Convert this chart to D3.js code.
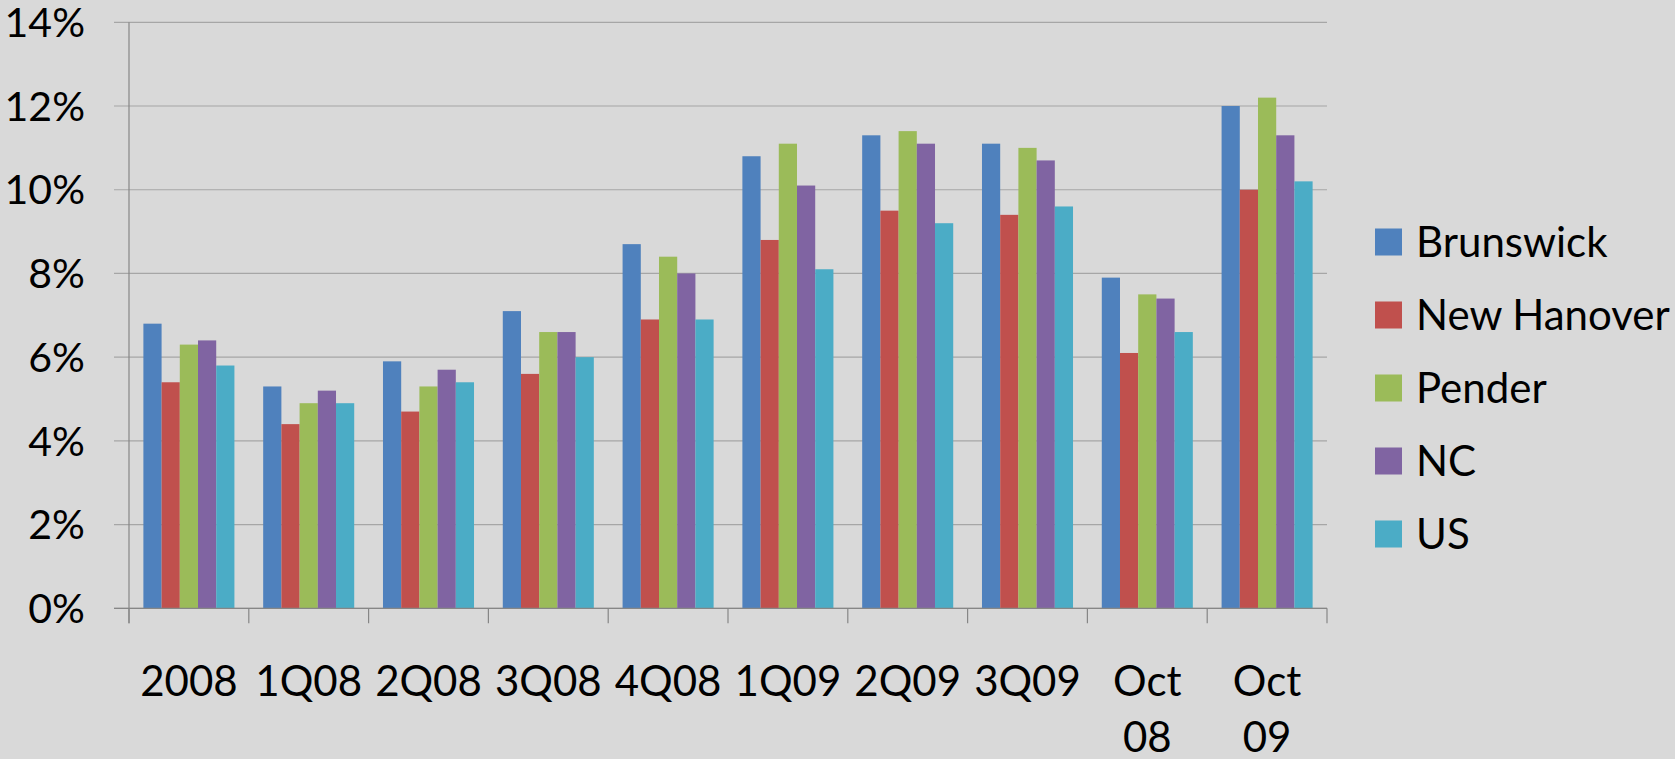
<!DOCTYPE html>
<html>
<head>
<meta charset="utf-8">
<script src="https://cdn.jsdelivr.net/npm/d3@7"></script>
<style>
  body { margin: 0; background: #d9d9d9; }
  svg text { font-family: Lato, "Open Sans", sans-serif; fill: #000; }
</style>
</head>
<body>
<script>
// categories and series
var categories = ["2008", "1Q08", "2Q08", "3Q08", "4Q08", "1Q09", "2Q09", "3Q09", "Oct 08", "Oct 09"];
var seriesNames = ["Brunswick", "New Hanover", "Pender", "NC", "US"];
var colors = ["#4f81bd", "#c0504d", "#9bbb59", "#8064a2", "#4bacc6"];

var brunswick  = [6.8, 5.3, 5.9, 7.1, 8.7, 10.8, 11.3, 11.1, 7.9, 12.0];
var newHanover = [5.4, 4.4, 4.7, 5.6, 6.9, 8.8, 9.5, 9.4, 6.1, 10.0];
var pender     = [6.3, 4.9, 5.3, 6.6, 8.4, 11.1, 11.4, 11.0, 7.5, 12.2];
var nc         = [6.4, 5.2, 5.7, 6.6, 8.0, 10.1, 11.1, 10.7, 7.4, 11.3];
var us         = [5.8, 4.9, 5.4, 6.0, 6.9, 8.1, 9.2, 9.6, 6.6, 10.2];

var yTicks = [0, 2, 4, 6, 8, 10, 12, 14];

var seriesValues = [brunswick, newHanover, pender, nc, us];

var W = 1675, H = 759;
var plotLeft = 129, plotRight = 1327, plotTop = 22.3, plotBottom = 608.3;

var svg = d3.select("body").append("svg")
    .attr("width", W)
    .attr("height", H);

svg.append("rect").attr("width", W).attr("height", H).attr("fill", "#d9d9d9");

var x0 = d3.scaleBand().domain(categories).range([plotLeft, plotRight]);
var x1 = d3.scaleBand().domain(seriesNames).range([0, x0.bandwidth()]).paddingOuter(0.79);
var y = d3.scaleLinear().domain([0, 14]).range([plotBottom, plotTop]);

// gridlines
svg.append("g")
    .selectAll("line")
    .data(yTicks)
    .enter().append("line")
    .attr("x1", plotLeft - 15)
    .attr("x2", plotRight)
    .attr("y1", function(d) { return y(d); })
    .attr("y2", function(d) { return y(d); })
    .attr("stroke", "#a6a6a6")
    .attr("stroke-width", 1.2);

// y labels
svg.append("g")
    .selectAll("text")
    .data(yTicks)
    .enter().append("text")
    .attr("x", 85)
    .attr("y", function(d) { return y(d); })
    .attr("dy", "0.36em")
    .attr("text-anchor", "end")
    .style("font-size", "41px")
    .text(function(d) { return d + "%"; });

// bars
var groups = svg.append("g")
    .selectAll("g")
    .data(categories)
    .enter().append("g")
    .attr("transform", function(d) { return "translate(" + x0(d) + ",0)"; });

groups.selectAll("rect")
    .data(function(c, i) {
        return seriesNames.map(function(s, j) { return { name: s, value: seriesValues[j][i], color: colors[j] }; });
    })
    .enter().append("rect")
    .attr("x", function(d) { return x1(d.name); })
    .attr("width", x1.bandwidth())
    .attr("y", function(d) { return y(d.value); })
    .attr("height", function(d) { return plotBottom - y(d.value); })
    .attr("fill", function(d) { return d.color; });

// axes
svg.append("line")
    .attr("x1", plotLeft).attr("x2", plotLeft)
    .attr("y1", plotTop).attr("y2", plotBottom + 15)
    .attr("stroke", "#868686").attr("stroke-width", 1.2);
svg.append("line")
    .attr("x1", plotLeft - 15).attr("x2", plotRight)
    .attr("y1", plotBottom).attr("y2", plotBottom)
    .attr("stroke", "#868686").attr("stroke-width", 1.2);

// category boundary ticks
svg.append("g")
    .selectAll("line")
    .data(categories.concat(["end"]))
    .enter().append("line")
    .attr("x1", function(d, i) { return plotLeft + i * x0.step(); })
    .attr("x2", function(d, i) { return plotLeft + i * x0.step(); })
    .attr("y1", plotBottom)
    .attr("y2", plotBottom + 15)
    .attr("stroke", "#868686").attr("stroke-width", 1.2);

// x labels
var xl = svg.append("g")
    .selectAll("text")
    .data(categories)
    .enter().append("text")
    .attr("x", function(d) { return x0(d) + x0.bandwidth() / 2; })
    .attr("y", 696)
    .attr("text-anchor", "middle")
    .style("font-size", "42px");

xl.each(function(d) {
    var parts = d.split(" ");
    var t = d3.select(this);
    parts.forEach(function(p, k) {
        t.append("tspan")
            .attr("x", x0(d) + x0.bandwidth() / 2)
            .attr("dy", k === 0 ? 0 : 56)
            .text(p);
    });
});

// legend
var legend = svg.append("g")
    .selectAll("g")
    .data(seriesNames)
    .enter().append("g")
    .attr("transform", function(d, i) { return "translate(1375," + (242 + i * 73) + ")"; });

legend.append("rect")
    .attr("x", 0).attr("y", -13.5)
    .attr("width", 27).attr("height", 27)
    .attr("fill", function(d, i) { return colors[i]; });

legend.append("text")
    .attr("x", 41)
    .attr("y", 0)
    .attr("dy", "0.36em")
    .style("font-size", "42px")
    .text(function(d) { return d; });
</script>
</body>
</html>
